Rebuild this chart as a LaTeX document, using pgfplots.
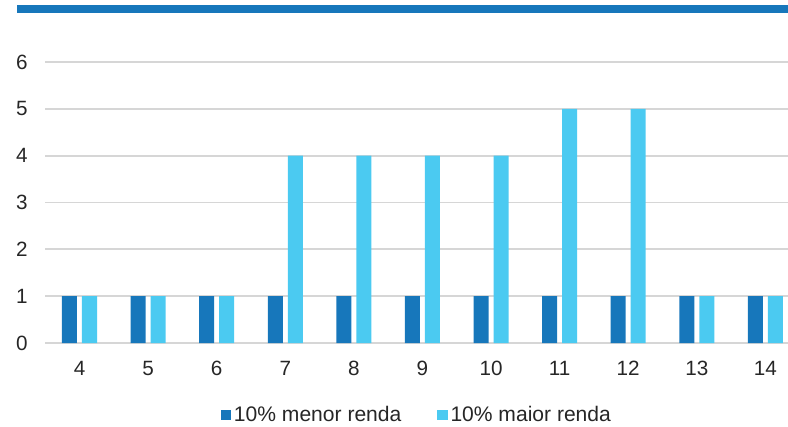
\documentclass[border=0pt]{standalone}
\usepackage{pgfplots}
\pgfplotsset{compat=1.18}
\usepackage{fontspec}
\setmainfont{Liberation Sans}
\definecolor{dkblue}{HTML}{1777BB}
\definecolor{ltblue}{HTML}{4BCAF1}
\definecolor{gridgray}{HTML}{D6D6D6}
\begin{document}
\begin{tikzpicture}
\path[use as bounding box] (0pt,0pt) rectangle (591pt,319.5pt);
\fill[dkblue] (12.75pt,309.75pt) rectangle (591pt,315.75pt);
\begin{axis}[
  at={(33.75pt,62.25pt)}, anchor=south west,
  scale only axis, width=557.25pt, height=210.75pt,
  xmin=-0.503, xmax=10.33, ymin=0, ymax=6,
  ybar, bar width=11.25pt,
  xtick={0,...,10}, xticklabels={4,5,6,7,8,9,10,11,12,13,14},
  ytick={0,1,...,6},
  axis line style={draw=none},
  tick style={draw=none},
  ymajorgrids, grid style={gridgray, line width=1.3pt},
  /pgf/number format/assume math mode=true,
  tick label style={font=\fontsize{15.5}{18}\selectfont, text=black!85},
  yticklabel style={xshift=-9.5pt},
  xticklabel style={yshift=-6pt},
  clip=false,
  legend columns=2,
  legend style={at={(0.501,-0.256)}, anchor=center, draw=none, fill=none,
    font=\fontsize{15.8}{18}\selectfont, text=black!85,
    /tikz/every even column/.append style={column sep=25pt}},
  legend image code/.code={\fill[#1] (0pt,-3.9pt) rectangle (7.8pt,3.9pt);},
]
\addplot[fill=dkblue, draw=none, bar shift=-7.5pt] coordinates {
(0,1) (1,1) (2,1) (3,1) (4,1) (5,1) (6,1) (7,1) (8,1) (9,1) (10,1)};
\addplot[fill=ltblue, draw=none, bar shift=7.5pt] coordinates {
(0,1) (1,1) (2,1) (3,4) (4,4) (5,4) (6,4) (7,5) (8,5) (9,1) (10,1)};
\legend{10\% menor renda, 10\% maior renda}
\end{axis}
\end{tikzpicture}
\end{document}
